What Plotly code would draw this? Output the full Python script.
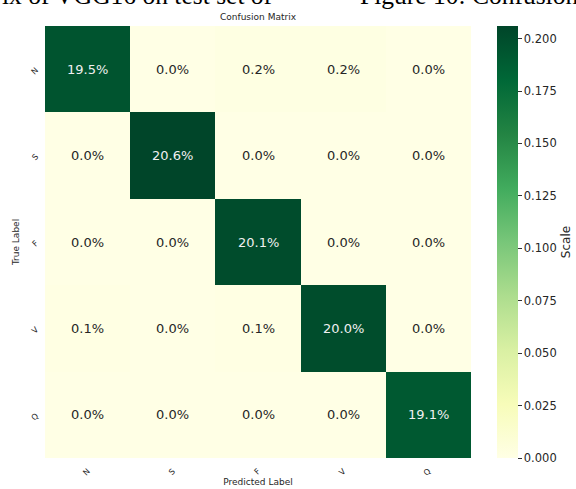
import plotly.graph_objects as go

classes = ["N", "S", "F", "V", "Q"]
values = [
    [0.195, 0.000, 0.002, 0.002, 0.000],
    [0.000, 0.206, 0.000, 0.000, 0.000],
    [0.000, 0.000, 0.201, 0.000, 0.000],
    [0.001, 0.000, 0.001, 0.200, 0.000],
    [0.000, 0.000, 0.000, 0.000, 0.191],
]
cbar_ticks = [0.0, 0.025, 0.05, 0.075, 0.1, 0.125, 0.15, 0.175, 0.2]

zmax = max(max(r) for r in values)

fig = go.Figure()
fig.add_trace(go.Heatmap(
    z=values, x=classes, y=classes,
    colorscale="YlGn", zmin=0, zmax=zmax,
    showscale=True,
    colorbar=dict(
        x=1.061, xanchor="left", xref="paper",
        y=0.5, yanchor="middle", len=1.0, lenmode="fraction",
        thickness=21, outlinewidth=0, xpad=0, ypad=0,
        tickvals=cbar_ticks, ticktext=[f"{t:.3f}" for t in cbar_ticks],
        ticks="outside", ticklen=4, tickcolor="#333333",
        tickfont=dict(family="DejaVu Sans", size=11.5, color="#262626"),
        title=dict(text="Scale", side="right",
                   font=dict(family="DejaVu Sans", size=12, color="#262626")),
    ),
    hoverinfo="skip",
))

for i, row in enumerate(values):
    for j, v in enumerate(row):
        fig.add_annotation(
            x=classes[j], y=classes[i], text=f"{v*100:.1f}%", showarrow=False,
            font=dict(family="DejaVu Sans", size=13,
                      color="#f0f0f0" if v > zmax / 2 else "#262626"),
        )

# cropped caption text from the source page
fig.add_annotation(xref="paper", yref="paper", x=-45/426, y=1.033, xanchor="left",
                   yanchor="bottom", showarrow=False, text="ix of VGG16 on test set of",
                   font=dict(family="Liberation Serif", size=25.5, color="#000000"))
fig.add_annotation(xref="paper", yref="paper", x=(358-45)/426, y=1.033, xanchor="left",
                   yanchor="bottom", showarrow=False, text="Figure 10: Confusion Matrix",
                   font=dict(family="Liberation Serif", size=25.5, color="#000000"))
fig.add_annotation(xref="paper", yref="paper", x=0.5, y=1 + (26 - 17) / 432,
                   xanchor="center", yanchor="middle", showarrow=False,
                   text="Confusion Matrix",
                   font=dict(family="DejaVu Sans", size=9, color="#262626"))

fig.update_xaxes(
    showgrid=False, zeroline=False, ticks="", tickangle=-45, ticklabelstandoff=6,
    tickfont=dict(family="DejaVu Sans", size=8, color="#262626"),
    title=dict(text="Predicted Label", standoff=2,
               font=dict(family="DejaVu Sans", size=9, color="#262626")),
)
fig.update_yaxes(
    showgrid=False, zeroline=False, ticks="", tickangle=-45, autorange="reversed",
    ticklabelstandoff=8,
    tickfont=dict(family="DejaVu Sans", size=8, color="#262626"),
    title=dict(text="True Label", standoff=8,
               font=dict(family="DejaVu Sans", size=9, color="#262626")),
)

fig.update_layout(
    width=576, height=489,
    margin=dict(l=45, r=105, t=26, b=31, autoexpand=False),
    paper_bgcolor="white", plot_bgcolor="white",
    font=dict(family="DejaVu Sans"),
)

fig.write_html("out.html", config={"displayModeBar": False},
               post_script="document.body.style.margin='0px';")
